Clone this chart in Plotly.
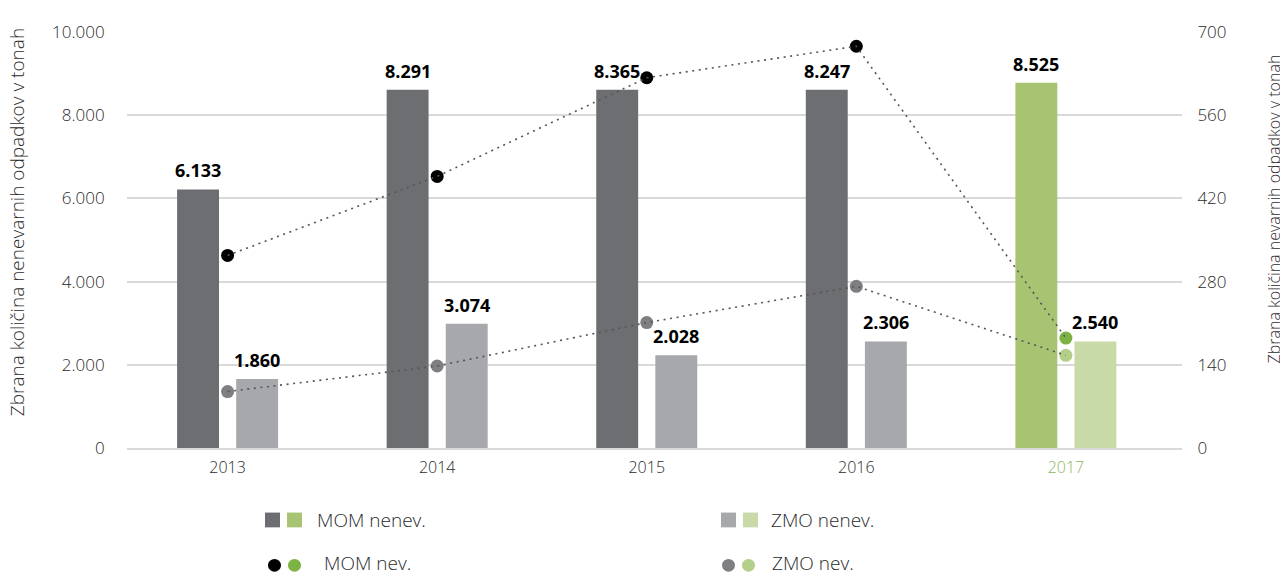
import plotly.graph_objects as go

# Data
years = ["2013", "2014", "2015", "2016", "2017"]

# printed labels above the bars (tonnes)
mom_nenev = [6133, 8291, 8365, 8247, 8525]
zmo_nenev = [1860, 3074, 2028, 2306, 2540]

# bar heights as drawn in the reference (left axis)
mom_nenev_drawn = [6216, 8612, 8612, 8612, 8778]
zmo_nenev_drawn = [1661, 2989, 2230, 2562, 2562]

# dots on the right axis (tonnes)
mom_nev = [324, 457, 623, 676, 185]
zmo_nev = [95, 138, 211, 272, 156]

left_ticks = [0, 2000, 4000, 6000, 8000, 10000]
right_ticks = [0, 140, 280, 420, 560, 700]

# colours
DARK = "#6d6e72"
LIGHT = "#a7a8ac"
GREEN = "#a6c472"
LGREEN = "#c8daa8"
DOT_BLACK = "#000000"
DOT_GREEN = "#7cb342"
DOT_GREY = "#7f7f83"
DOT_LGREEN = "#b3cf8a"
GRID = "#d9d9d9"
TXT = "#2b2b2b"
FONT = "Open Sans, Noto Sans, sans-serif"

BAR_W = 0.2
MOM_OFF = -0.241
ZMO_OFF = 0.041


def fmt(v):
    return f"{v:,}".replace(",", ".")


def per_year(normal, last):
    return [normal] * (len(years) - 1) + [last]


fig = go.Figure()

fig.add_trace(go.Bar(
    x=years, y=mom_nenev_drawn, name="MOM nenev.",
    marker=dict(color=per_year(DARK, GREEN), line=dict(width=0)),
    width=BAR_W, offset=MOM_OFF, showlegend=False,
))
fig.add_trace(go.Bar(
    x=years, y=zmo_nenev_drawn, name="ZMO nenev.",
    marker=dict(color=per_year(LIGHT, LGREEN), line=dict(width=0)),
    width=BAR_W, offset=ZMO_OFF, showlegend=False,
))

# dots, then the dotted connecting lines on top
for vals, cols in [(mom_nev, per_year(DOT_BLACK, DOT_GREEN)),
                   (zmo_nev, per_year(DOT_GREY, DOT_LGREEN))]:
    fig.add_trace(go.Scatter(
        x=years, y=vals, yaxis="y2", mode="markers",
        marker=dict(size=13, color=cols, line=dict(width=0)),
        showlegend=False, cliponaxis=False,
    ))
    fig.add_trace(go.Scatter(
        x=years, y=vals, yaxis="y2", mode="lines",
        line=dict(color="#555555", width=1.6, dash="2px,4.6px"),
        showlegend=False, cliponaxis=False,
    ))

# page offset of the plotly div inside the browser body
OFF = 8
# plot area in screen pixels: x 127..1182, y 26..448
L, R, T, B = 127, 1182, 26, 448
SW, SH = 1288, 573


def px(x):
    return (x - L) / (R - L)


def py(y):
    return (B - y) / (B - T)


shapes = []
annotations = []

# value labels above bars (x as category index + bar offset)
for heights, labels, off in [(mom_nenev_drawn, mom_nenev, MOM_OFF),
                             (zmo_nenev_drawn, zmo_nenev, ZMO_OFF)]:
    for i, (h, v) in enumerate(zip(heights, labels)):
        annotations.append(dict(
            x=i + off + BAR_W / 2, y=h, xref="x", yref="y", text=fmt(v),
            yshift=5, xanchor="center", yanchor="bottom", showarrow=False,
            font=dict(family=FONT, size=18, color="#000000", weight=700),
        ))

# legend: squares for bars, circles for dots
legend_rows = [
    (265, 521, [DARK, GREEN], "rect", 315, "MOM nenev."),
    (721, 521, [LIGHT, LGREEN], "rect", 769, "ZMO nenev."),
    (268, 567, [DOT_BLACK, DOT_GREEN], "circle", 322, "MOM nev."),
    (722, 567, [DOT_GREY, DOT_LGREEN], "circle", 770, "ZMO nev."),
]
for x0, yc, cols, kind, tx, label in legend_rows:
    size = 15 if kind == "rect" else 13
    for i, c in enumerate(cols):
        xa = x0 + i * (22 if kind == "rect" else 20)
        shapes.append(dict(
            type=kind, xref="paper", yref="paper",
            x0=px(xa), x1=px(xa + size),
            y0=py(yc + size / 2), y1=py(yc - size / 2),
            fillcolor=c, line=dict(width=0), layer="above",
        ))
    annotations.append(dict(
        text=label, xref="paper", yref="paper",
        x=px(tx), y=py(yc - (2 if kind == "circle" else 0)),
        xanchor="left", yanchor="middle", showarrow=False,
        font=dict(family=FONT, size=19, color=TXT, weight=300),
    ))

# axis titles
annotations.append(dict(
    text="Zbrana količina nenevarnih odpadkov v tonah",
    xref="paper", yref="paper", x=px(17), y=py(219),
    xanchor="center", yanchor="middle", textangle=-90, showarrow=False,
    font=dict(family=FONT, size=19, color=TXT, weight=300),
))
annotations.append(dict(
    text="Zbrana količina nevarnih odpadkov v tonah",
    xref="paper", yref="paper", x=px(1274), y=py(206),
    xanchor="center", yanchor="middle", textangle=-90, showarrow=False,
    font=dict(family=FONT, size=16, color=TXT, weight=300),
))

tick_text = [y if y != years[-1] else f'<span style="color:#8fb65c">{y}</span>' for y in years]

fig.update_layout(
    width=SW - OFF, height=SH - OFF,
    margin=dict(l=L - OFF, r=SW - R, t=T - OFF, b=SH - B, pad=0),
    paper_bgcolor="white", plot_bgcolor="white",
    barmode="overlay",
    separators=",.",
    font=dict(family=FONT, color=TXT),
    shapes=shapes, annotations=annotations,
    xaxis=dict(
        type="category", range=[-0.48, 4.554],
        tickvals=years, ticktext=tick_text,
        showgrid=False, zeroline=False,
        showline=True, linecolor=GRID, linewidth=2,
        ticks="outside", ticklen=4, tickcolor="rgba(0,0,0,0)",
        tickfont=dict(family=FONT, size=16, color=TXT, weight=300),
    ),
    yaxis=dict(
        range=[0, 10000], tickvals=left_ticks, tickformat=",d",
        showgrid=True, gridcolor=GRID, gridwidth=2,
        zeroline=False, showline=False,
        ticks="outside", ticklen=18, tickcolor="rgba(0,0,0,0)",
        tickfont=dict(family=FONT, size=17, color=TXT, weight=300),
    ),
    yaxis2=dict(
        range=[0, 700], tickvals=right_ticks, overlaying="y", side="right",
        showgrid=False, zeroline=False, showline=False,
        ticks="outside", ticklen=11, tickcolor="rgba(0,0,0,0)",
        tickfont=dict(family=FONT, size=17, color=TXT, weight=300),
    ),
)

fig.write_html("out.html")
